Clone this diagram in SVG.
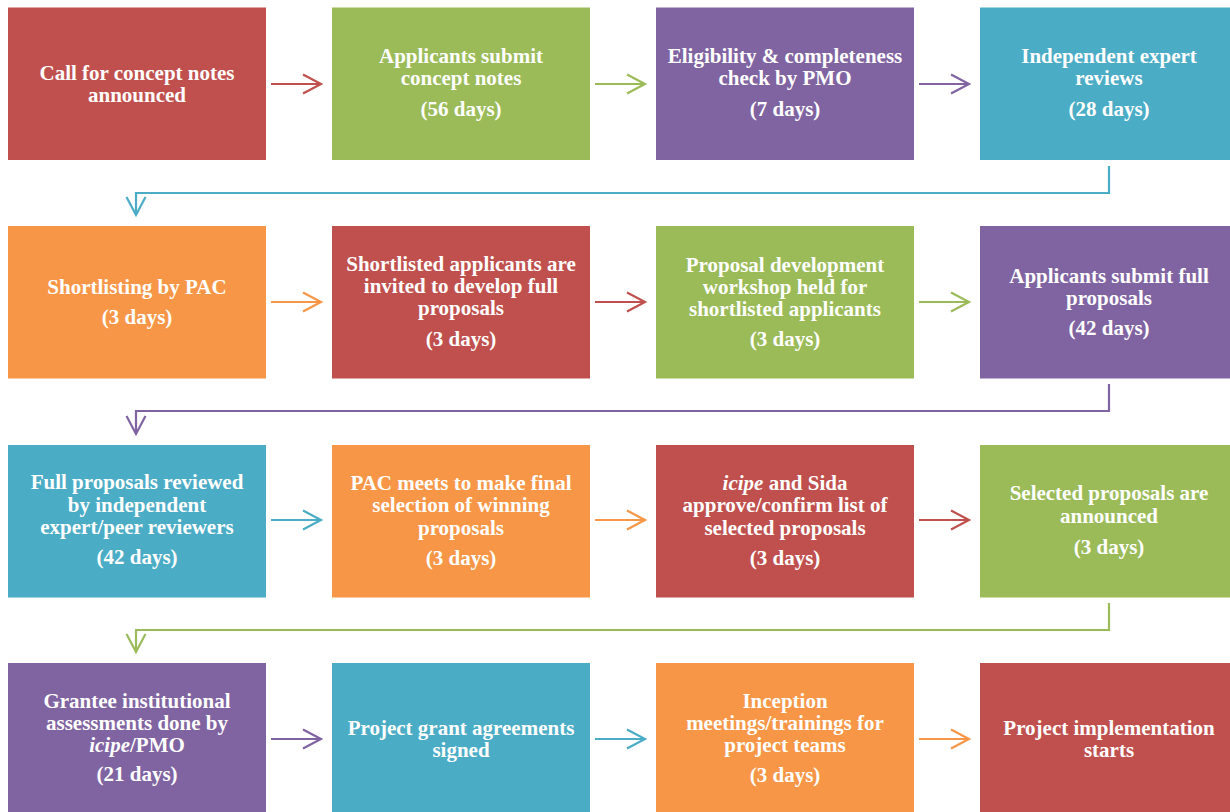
<svg xmlns="http://www.w3.org/2000/svg" width="1230" height="812" viewBox="0 0 1230 812">
<style>
.box{stroke:none}
.red{fill:#C0504D}.green{fill:#9BBB59}.purple{fill:#8064A2}.teal{fill:#4BACC6}.orange{fill:#F79646}
text{font-family:"Liberation Serif","Times New Roman",serif;font-weight:bold;font-size:21px;fill:#FFFFFF;text-anchor:middle}
.it{font-style:italic}
.c{fill:none;stroke-width:2.2}
.cr{stroke:#C0504D}.cg{stroke:#9BBB59}.cp{stroke:#8064A2}.ct{stroke:#4BACC6}.co{stroke:#F79646}
</style>
<defs>
<marker id="mr" markerUnits="userSpaceOnUse" markerWidth="24" markerHeight="24" refX="20" refY="12" orient="auto" viewBox="0 0 24 24"><path d="M2 2.5 L20 12 L2 21.5" fill="none" stroke="#C0504D" stroke-width="2.2"/></marker>
<marker id="mg" markerUnits="userSpaceOnUse" markerWidth="24" markerHeight="24" refX="20" refY="12" orient="auto" viewBox="0 0 24 24"><path d="M2 2.5 L20 12 L2 21.5" fill="none" stroke="#9BBB59" stroke-width="2.2"/></marker>
<marker id="mp" markerUnits="userSpaceOnUse" markerWidth="24" markerHeight="24" refX="20" refY="12" orient="auto" viewBox="0 0 24 24"><path d="M2 2.5 L20 12 L2 21.5" fill="none" stroke="#8064A2" stroke-width="2.2"/></marker>
<marker id="mt" markerUnits="userSpaceOnUse" markerWidth="24" markerHeight="24" refX="20" refY="12" orient="auto" viewBox="0 0 24 24"><path d="M2 2.5 L20 12 L2 21.5" fill="none" stroke="#4BACC6" stroke-width="2.2"/></marker>
<marker id="mo" markerUnits="userSpaceOnUse" markerWidth="24" markerHeight="24" refX="20" refY="12" orient="auto" viewBox="0 0 24 24"><path d="M2 2.5 L20 12 L2 21.5" fill="none" stroke="#F79646" stroke-width="2.2"/></marker>
</defs>
<rect width="1230" height="812" fill="#FFFFFF"/>

<g id="connectors">
<line class="c cr" x1="271" y1="84" x2="321" y2="84" marker-end="url(#mr)"/>
<line class="c cg" x1="595" y1="84" x2="645" y2="84" marker-end="url(#mg)"/>
<line class="c cp" x1="919" y1="84" x2="969" y2="84" marker-end="url(#mp)"/>
<polyline class="c ct" points="1109,166 1109,193 136,193 136,215" marker-end="url(#mt)"/>
<line class="c co" x1="271" y1="302" x2="321" y2="302" marker-end="url(#mo)"/>
<line class="c cr" x1="595" y1="302" x2="645" y2="302" marker-end="url(#mr)"/>
<line class="c cg" x1="919" y1="302" x2="969" y2="302" marker-end="url(#mg)"/>
<polyline class="c cp" points="1109,384 1109,411 136,411 136,434" marker-end="url(#mp)"/>
<line class="c ct" x1="271" y1="520" x2="321" y2="520" marker-end="url(#mt)"/>
<line class="c co" x1="595" y1="520" x2="645" y2="520" marker-end="url(#mo)"/>
<line class="c cr" x1="919" y1="520" x2="969" y2="520" marker-end="url(#mr)"/>
<polyline class="c cg" points="1109,603 1109,630 136,630 136,652" marker-end="url(#mg)"/>
<line class="c cp" x1="271" y1="739" x2="321" y2="739" marker-end="url(#mp)"/>
<line class="c ct" x1="595" y1="739" x2="645" y2="739" marker-end="url(#mt)"/>
<line class="c co" x1="919" y1="739" x2="969" y2="739" marker-end="url(#mo)"/>
</g>

<g id="n1"><rect class="box red" x="8" y="7.5" width="258" height="152.5"/>
<text x="137" y="79.5">Call for concept notes</text><text x="137" y="101.5">announced</text></g>
<g id="n2"><rect class="box green" x="332" y="7.5" width="258" height="152.5"/>
<text x="461" y="63">Applicants submit</text><text x="461" y="85">concept notes</text><text x="461" y="116">(56 days)</text></g>
<g id="n3"><rect class="box purple" x="656" y="7.5" width="258" height="152.5"/>
<text x="785" y="63">Eligibility &amp; completeness</text><text x="785" y="85">check by PMO</text><text x="785" y="116">(7 days)</text></g>
<g id="n4"><rect class="box teal" x="980" y="7.5" width="258" height="152.5"/>
<text x="1109" y="63">Independent expert</text><text x="1109" y="85">reviews</text><text x="1109" y="116">(28 days)</text></g>

<g id="n5"><rect class="box orange" x="8" y="226" width="258" height="152.5"/>
<text x="137" y="294">Shortlisting by PAC</text><text x="137" y="324">(3 days)</text></g>
<g id="n6"><rect class="box red" x="332" y="226" width="258" height="152.5"/>
<text x="461" y="271">Shortlisted applicants are</text><text x="461" y="293">invited to develop full</text><text x="461" y="315">proposals</text><text x="461" y="346">(3 days)</text></g>
<g id="n7"><rect class="box green" x="656" y="226" width="258" height="152.5"/>
<text x="785" y="272">Proposal development</text><text x="785" y="294">workshop held for</text><text x="785" y="316">shortlisted applicants</text><text x="785" y="346">(3 days)</text></g>
<g id="n8"><rect class="box purple" x="980" y="226" width="258" height="152.5"/>
<text x="1109" y="283">Applicants submit full</text><text x="1109" y="305">proposals</text><text x="1109" y="335">(42 days)</text></g>

<g id="n9"><rect class="box teal" x="8" y="445" width="258" height="152.5"/>
<text x="137" y="489">Full proposals reviewed</text><text x="137" y="511.5">by independent</text><text x="137" y="534">expert/peer reviewers</text><text x="137" y="564">(42 days)</text></g>
<g id="n10"><rect class="box orange" x="332" y="445" width="258" height="152.5"/>
<text x="461" y="490">PAC meets to make final</text><text x="461" y="512">selection of winning</text><text x="461" y="535">proposals</text><text x="461" y="565">(3 days)</text></g>
<g id="n11"><rect class="box red" x="656" y="445" width="258" height="152.5"/>
<text x="785" y="490"><tspan class="it">icipe</tspan> and Sida</text><text x="785" y="512">approve/confirm list of</text><text x="785" y="535">selected proposals</text><text x="785" y="565">(3 days)</text></g>
<g id="n12"><rect class="box green" x="980" y="445" width="258" height="152.5"/>
<text x="1109" y="500">Selected proposals are</text><text x="1109" y="523">announced</text><text x="1109" y="554">(3 days)</text></g>

<g id="n13"><rect class="box purple" x="8" y="663" width="258" height="152.5"/>
<text x="137" y="708">Grantee institutional</text><text x="137" y="730">assessments done by</text><text x="137" y="752"><tspan class="it">icipe</tspan>/PMO</text><text x="137" y="781">(21 days)</text></g>
<g id="n14"><rect class="box teal" x="332" y="663" width="258" height="152.5"/>
<text x="461" y="735">Project grant agreements</text><text x="461" y="757">signed</text></g>
<g id="n15"><rect class="box orange" x="656" y="663" width="258" height="152.5"/>
<text x="785" y="708">Inception</text><text x="785" y="730">meetings/trainings for</text><text x="785" y="752">project teams</text><text x="785" y="782">(3 days)</text></g>
<g id="n16"><rect class="box red" x="980" y="663" width="258" height="152.5"/>
<text x="1109" y="735">Project implementation</text><text x="1109" y="757">starts</text></g>
</svg>
